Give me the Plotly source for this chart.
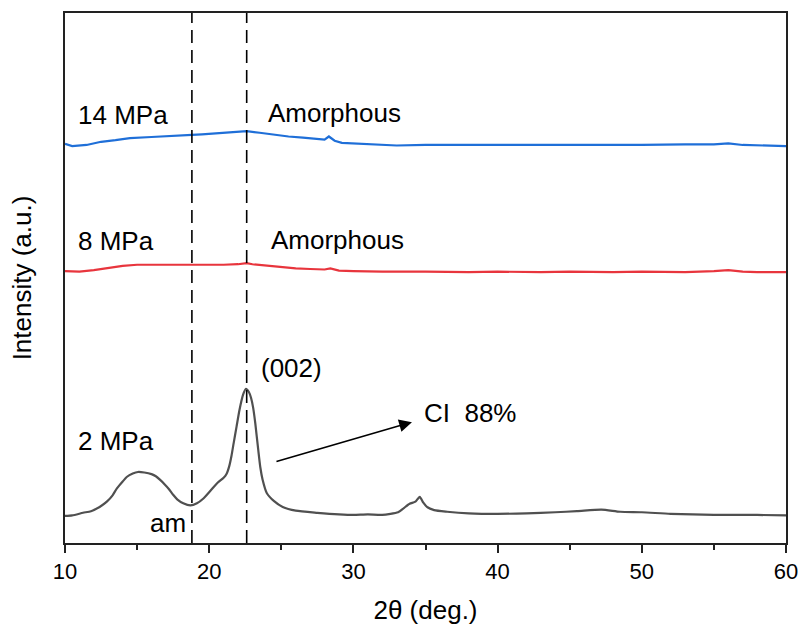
import plotly.graph_objects as go

# 2 MPa (gray)
x_2 = [10, 10.5, 11.25, 11.8, 12.4, 12.9, 13.3, 13.6, 14.0, 14.3, 14.7, 15.06, 15.5, 16.0, 16.3, 16.6, 16.9, 17.2, 17.5, 17.8, 18.2, 18.7, 19.15, 19.6, 20.1, 20.6, 21.0, 21.2, 21.4, 21.55, 21.7, 21.9, 22.1, 22.35, 22.55, 22.75, 22.9, 23.05, 23.2, 23.4, 23.55, 23.7, 24.0, 24.5, 25.1, 26.0, 27.5, 29, 30, 31, 32, 33.1, 33.5, 33.9, 34.3, 34.6, 34.85, 35.1, 35.6, 36.5, 38, 40, 42, 44, 45.5, 47.2, 48.5, 50, 52, 55, 58, 60]
y_2 = [5.1, 5.2, 5.7, 6.0, 6.8, 7.8, 9.0, 10.3, 11.6, 12.5, 13.1, 13.4, 13.3, 13.0, 12.6, 11.9, 11.1, 10.2, 9.1, 8.2, 7.5, 7.1, 7.5, 8.4, 9.9, 11.4, 12.3, 13.0, 14.6, 16.5, 18.9, 22.0, 25.1, 28.0, 29.1, 28.5, 27.4, 25.5, 22.5, 17.6, 14.2, 12.0, 9.4, 7.9, 6.8, 6.1, 5.7, 5.4, 5.3, 5.4, 5.3, 5.8, 6.6, 7.4, 7.8, 8.7, 7.6, 6.8, 6.2, 5.9, 5.6, 5.5, 5.6, 5.8, 6.0, 6.3, 5.9, 5.8, 5.5, 5.3, 5.3, 5.2]

# 8 MPa (red)
x_8 = [10, 11, 12, 13, 14, 15, 16, 17, 18, 19, 20, 21, 22, 22.6, 23, 24, 25, 26, 27, 28, 28.4, 29, 30, 32, 35, 38, 40, 43, 45, 48, 50, 53, 55, 56, 57, 58, 60]
y_8 = [51.3, 51.2, 51.5, 51.9, 52.3, 52.5, 52.5, 52.4, 52.4, 52.5, 52.5, 52.5, 52.6, 52.8, 52.6, 52.3, 52.0, 51.8, 51.7, 51.6, 51.8, 51.4, 51.3, 51.2, 51.2, 51.1, 51.2, 51.1, 51.2, 51.1, 51.2, 51.1, 51.3, 51.5, 51.2, 51.1, 51.1]

# 14 MPa (blue)
x_14 = [10, 10.5, 11.5, 12.5, 13.5, 14.5, 16, 17, 18, 18.8, 19.5, 20.5, 21.5, 22.6, 23.5, 24.5, 25.5, 26.5, 27.5, 28.0, 28.3, 28.7, 29.2, 30, 31, 32, 33, 35, 37, 40, 43, 45, 48, 50, 53, 55, 56, 57, 60]
y_14 = [75.3, 74.9, 75.1, 75.7, 76.0, 76.4, 76.6, 76.7, 76.8, 77.0, 77.1, 77.3, 77.5, 77.7, 77.4, 77.0, 76.7, 76.5, 76.2, 76.1, 76.7, 75.9, 75.5, 75.4, 75.3, 75.1, 75.0, 75.1, 75.1, 75.1, 75.0, 75.1, 75.1, 75.1, 75.2, 75.2, 75.4, 75.1, 74.9]

ref_lines = [18.8, 22.6]
x_ticks = [10, 20, 30, 40, 50, 60]

labels = [
    ("14 MPa", 10.75, 80.8),
    ("Amorphous", 23.94, 81.1),
    ("8 MPa", 10.75, 57.0),
    ("Amorphous", 24.15, 57.2),
    ("(002)", 23.45, 33.0),
    ("CI\u00a0\u00a088%", 34.76, 24.5),
    ("2 MPa", 10.75, 19.2),
    ("am", 15.76, 3.8),
]
arrow_tail = (24.56, 15.3)
arrow_head = (34.06, 22.8)

FONT = "Liberation Sans, Arial, sans-serif"

fig = go.Figure()
fig.add_trace(go.Scatter(x=x_2, y=y_2, mode="lines", line=dict(color="#505050", width=2.2, shape="spline", smoothing=0.6), showlegend=False))
fig.add_trace(go.Scatter(x=x_8, y=y_8, mode="lines", line=dict(color="#e8353d", width=2.2), showlegend=False))
fig.add_trace(go.Scatter(x=x_14, y=y_14, mode="lines", line=dict(color="#1f6fd8", width=2.2), showlegend=False))

for xv in ref_lines:
    fig.add_shape(type="line", x0=xv, x1=xv, y0=0, y1=1, xref="x", yref="paper",
                  line=dict(color="black", width=1.6, dash="13px,7px"))

for txt, xv, yv in labels:
    fig.add_annotation(x=xv, y=yv, text=txt, showarrow=False, xanchor="left", yanchor="middle",
                       font=dict(size=26, color="black", family=FONT))

fig.add_annotation(x=arrow_head[0], y=arrow_head[1], ax=arrow_tail[0], ay=arrow_tail[1],
                   axref="x", ayref="y", xref="x", yref="y", text="", showarrow=True,
                   arrowhead=2, arrowsize=1.6, arrowwidth=1.6, arrowcolor="black")

fig.update_xaxes(range=[10, 60], tickvals=x_ticks, ticks="outside", ticklen=8, tickwidth=1.5,
                 tickcolor="#222", showline=True, linecolor="#222", linewidth=1.5, mirror=True,
                 showgrid=False, zeroline=False, automargin=False,
                 minor=dict(ticks="outside", ticklen=5, tickwidth=1.5, tickcolor="#222", dtick=5),
                 tickfont=dict(size=22, family=FONT, color="black"),
                 title=dict(text="2θ (deg.)", font=dict(size=26, family=FONT, color="black"), standoff=18))
fig.update_yaxes(range=[0, 100], showticklabels=False, ticks="", showline=True, linecolor="#222",
                 linewidth=1.5, mirror=True, showgrid=False, zeroline=False, automargin=False,
                 title=dict(text="Intensity (a.u.)", font=dict(size=26, family=FONT, color="black"), standoff=24))

fig.update_layout(width=801, height=627, margin=dict(l=65, r=15, t=13, b=84, autoexpand=False),
                  plot_bgcolor="white", paper_bgcolor="white", font=dict(family=FONT))

fig.write_html("out.html")
